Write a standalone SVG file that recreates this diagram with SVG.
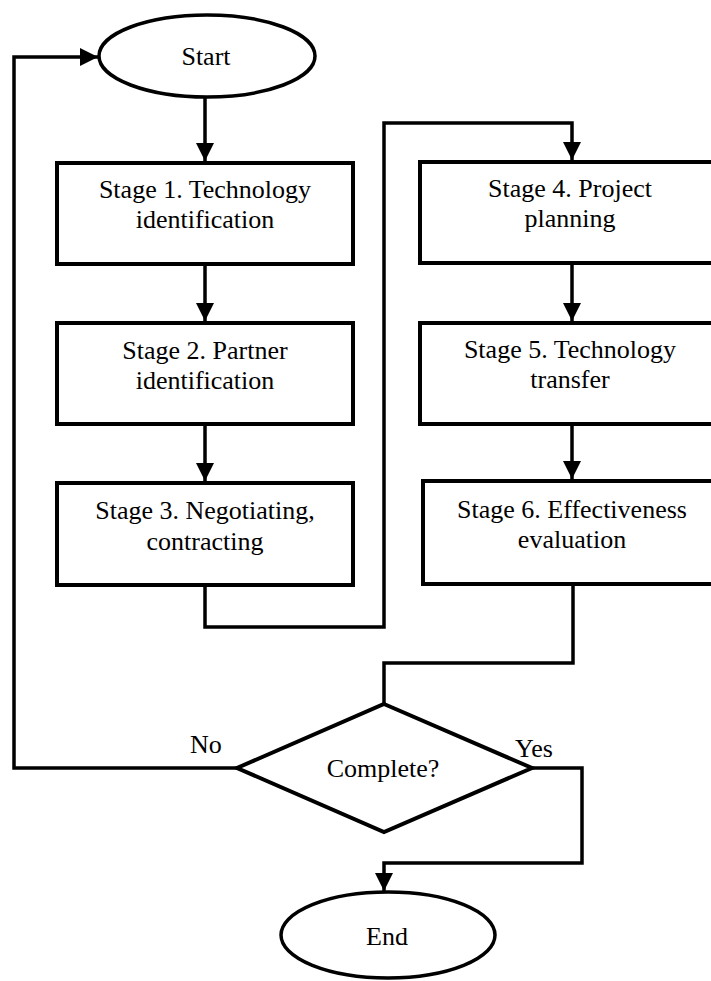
<svg xmlns="http://www.w3.org/2000/svg" width="711" height="981" viewBox="0 0 711 981">
<style>
.box{fill:#fff;stroke:#000;stroke-width:4}
.term{fill:#fff;stroke:#000;stroke-width:3.5}
.t{font-family:"Liberation Serif","Times New Roman",serif;font-size:26px;fill:#000;text-anchor:middle}
.lbl{font-family:"Liberation Serif","Times New Roman",serif;font-size:26px;fill:#000}
.c{fill:none;stroke:#000;stroke-width:3.5;stroke-linejoin:miter}
</style>
<defs>
<marker id="ah" markerUnits="userSpaceOnUse" markerWidth="18" markerHeight="18" refX="18" refY="9" orient="auto">
<path d="M0,0 L18,9 L0,18 Z" fill="#000"/>
</marker>
</defs>
<rect width="711" height="981" fill="#fff"/>
<g id="connectors">
<path class="c" d="M205,97 V161" marker-end="url(#ah)"/>
<path class="c" d="M205,264 V321" marker-end="url(#ah)"/>
<path class="c" d="M205,424 V481" marker-end="url(#ah)"/>
<path class="c" d="M205,586 V627 H384 V123 H572 V160" marker-end="url(#ah)"/>
<path class="c" d="M572,264 V321" marker-end="url(#ah)"/>
<path class="c" d="M572,424 V479" marker-end="url(#ah)"/>
<path class="c" d="M573,586 V663 H384 V704"/>
<path class="c" d="M237,768 H14 V57 H98" marker-end="url(#ah)"/>
<path class="c" d="M532,768 H582 V863 H384 V891" marker-end="url(#ah)"/>
</g>
<g id="start">
<ellipse class="term" cx="207" cy="56" rx="108" ry="41"/>
<text class="t" x="206" y="65">Start</text>
</g>
<g id="stage1">
<rect class="box" x="57" y="163" width="296" height="101"/>
<text class="t" x="205" y="198">Stage 1. Technology</text>
<text class="t" x="205" y="228">identification</text>
</g>
<g id="stage2">
<rect class="box" x="57" y="323" width="296" height="101"/>
<text class="t" x="205" y="359">Stage 2. Partner</text>
<text class="t" x="205" y="389">identification</text>
</g>
<g id="stage3">
<rect class="box" x="57" y="483" width="296" height="102"/>
<text class="t" x="205" y="519">Stage 3. Negotiating,</text>
<text class="t" x="205" y="550">contracting</text>
</g>
<g id="stage4">
<rect class="box" x="420" y="162" width="300" height="101"/>
<text class="t" x="570" y="197">Stage 4. Project</text>
<text class="t" x="570" y="227">planning</text>
</g>
<g id="stage5">
<rect class="box" x="420" y="323" width="300" height="101"/>
<text class="t" x="570" y="358">Stage 5. Technology</text>
<text class="t" x="570" y="388">transfer</text>
</g>
<g id="stage6">
<rect class="box" x="423" y="481" width="300" height="103"/>
<text class="t" x="572" y="518">Stage 6. Effectiveness</text>
<text class="t" x="572" y="548">evaluation</text>
</g>
<g id="decision">
<path class="box" d="M384,704 L532,768 L384,832 L237,768 Z"/>
<text class="t" x="383" y="777">Complete?</text>
</g>
<g id="edge-labels">
<text class="lbl" x="190" y="753">No</text>
<text class="lbl" x="515" y="757">Yes</text>
</g>
<g id="end">
<ellipse class="term" cx="388" cy="935" rx="107" ry="43"/>
<text class="t" x="387" y="945">End</text>
</g>
</svg>
